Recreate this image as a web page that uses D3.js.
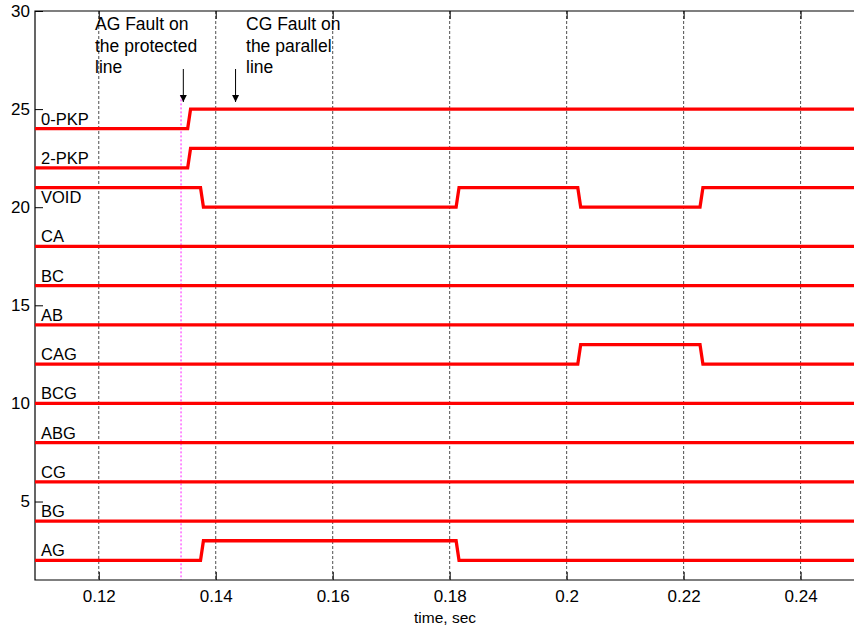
<!DOCTYPE html>
<html>
<head>
<meta charset="utf-8">
<script src="https://cdn.jsdelivr.net/npm/d3@7"></script>
<style>
  body { margin: 0; background: #fff; }
  svg { display: block; font-family: Arial, "Liberation Sans", sans-serif; }
</style>
</head>
<body>
<svg id="chart" width="854" height="629"></svg>
<script>
// time range shown and tick values
const tStart = 0.1091, tEnd = 0.2493;
const xTicks = [0.12, 0.14, 0.16, 0.18, 0.2, 0.22, 0.24];
const yTicks = [5, 10, 15, 20, 25, 30];

// channel names and the (low) level each one sits on
const channels = ["0-PKP", "2-PKP", "VOID", "CA", "BC", "AB", "CAG", "BCG", "ABG", "CG", "BG", "AG"];
const baseLevels = [24, 22, 20, 18, 16, 14, 12, 10, 8, 6, 4, 2];

// digital traces, [time, value]
const pkp0 = [[tStart, 24], [0.1352, 24], [0.1357, 25], [tEnd, 25]];
const pkp2 = [[tStart, 22], [0.1352, 22], [0.1357, 23], [tEnd, 23]];
const voidSig = [[tStart, 21], [0.1374, 21], [0.1379, 20], [0.1811, 20], [0.1816, 21],
                 [0.2019, 21], [0.2024, 20], [0.2228, 20], [0.2233, 21], [tEnd, 21]];
const ca = [[tStart, 18], [tEnd, 18]];
const bc = [[tStart, 16], [tEnd, 16]];
const ab = [[tStart, 14], [tEnd, 14]];
const cag = [[tStart, 12], [0.2019, 12], [0.2024, 13], [0.2228, 13], [0.2233, 12], [tEnd, 12]];
const bcg = [[tStart, 10], [tEnd, 10]];
const abg = [[tStart, 8], [tEnd, 8]];
const cg = [[tStart, 6], [tEnd, 6]];
const bg = [[tStart, 4], [tEnd, 4]];
const ag = [[tStart, 2], [0.1374, 2], [0.1379, 3], [0.1811, 3], [0.1816, 2], [tEnd, 2]];
const traces = [pkp0, pkp2, voidSig, ca, bc, ab, cag, bcg, abg, cg, bg, ag];

// fault markers
const faultInception = 0.13407;
const notes = [
  { t: 0.13446, lines: ["AG Fault on", "the protected", "line"], textT: 0.11936 },
  { t: 0.14339, lines: ["CG Fault on", "the parallel", "line"], textT: 0.14518 }
];

const svg = d3.select("#chart");
const x = d3.scaleLinear().domain([tStart, tEnd]).range([35, 855]);
const y = d3.scaleLinear().domain([1, 30]).range([580, 11]);
const font = "Arial, 'Liberation Sans', sans-serif";

// dashed vertical grid
svg.append("g")
  .selectAll("line")
  .data(xTicks)
  .join("line")
  .attr("x1", d => x(d)).attr("x2", d => x(d))
  .attr("y1", y(30)).attr("y2", y(1))
  .attr("stroke", "#222")
  .attr("stroke-width", 0.8)
  .attr("stroke-dasharray", "3,2");

// fault inception marker
svg.append("line")
  .attr("x1", x(faultInception)).attr("x2", x(faultInception))
  .attr("y1", y(25.7)).attr("y2", y(1))
  .attr("stroke", "#ff00ff")
  .attr("stroke-width", 0.9)
  .attr("stroke-dasharray", "2,2");

// frame
svg.append("path")
  .attr("d", `M${x(tEnd)},${y(30)}H${x(tStart)}V${y(1)}H${x(tEnd)}`)
  .attr("fill", "none")
  .attr("stroke", "#000")
  .attr("stroke-width", 1.2);

// axes (ticks pointing inward)
const xAxis = svg.append("g")
  .attr("transform", `translate(0,${y(1)})`)
  .call(d3.axisBottom(x).tickValues(xTicks).tickSize(-8).tickPadding(10)
    .tickFormat(d => String(+d.toFixed(2))));
xAxis.select(".domain").remove();
xAxis.selectAll("text").attr("font-size", 17).attr("fill", "#000").attr("font-family", font);

const xTop = svg.append("g")
  .attr("transform", `translate(0,${y(30)})`)
  .call(d3.axisTop(x).tickValues(xTicks).tickSize(-8).tickFormat(""));
xTop.select(".domain").remove();

const yAxis = svg.append("g")
  .attr("transform", `translate(${x(tStart)},0)`)
  .call(d3.axisLeft(y).tickValues(yTicks).tickSize(-8).tickPadding(5));
yAxis.select(".domain").remove();
yAxis.selectAll("text").attr("font-size", 17).attr("fill", "#000").attr("font-family", font);

svg.append("text")
  .attr("x", 445).attr("y", 623)
  .attr("text-anchor", "middle")
  .attr("font-size", 15.5)
  .text("time, sec");

// traces
const line = d3.line().x(d => x(d[0])).y(d => y(d[1]));
svg.append("g")
  .selectAll("path")
  .data(traces)
  .join("path")
  .attr("d", line)
  .attr("fill", "none")
  .attr("stroke", "#ff0000")
  .attr("stroke-width", 3.3);

// channel labels
svg.append("g")
  .selectAll("text")
  .data(channels)
  .join("text")
  .attr("x", 41)
  .attr("y", (d, i) => y(baseLevels[i]) - 4)
  .attr("font-size", 16.5)
  .text(d => d);

// annotations with arrows
svg.append("defs").append("marker")
  .attr("id", "head")
  .attr("viewBox", "0 0 10 10")
  .attr("refX", 10).attr("refY", 5)
  .attr("markerWidth", 7).attr("markerHeight", 11)
  .attr("markerUnits", "userSpaceOnUse")
  .attr("orient", "auto")
  .append("path").attr("d", "M0,0L10,5L0,10Z").attr("fill", "#000");

const note = svg.append("g").selectAll("g").data(notes).join("g");
note.append("line")
  .attr("x1", d => x(d.t)).attr("x2", d => x(d.t))
  .attr("y1", 69).attr("y2", 102)
  .attr("stroke", "#000").attr("stroke-width", 1)
  .attr("marker-end", "url(#head)");
note.append("text")
  .attr("font-size", 17.5)
  .selectAll("tspan")
  .data(d => d.lines.map((s, i) => ({ s, i, t: d.textT })))
  .join("tspan")
  .attr("x", d => x(d.t))
  .attr("y", d => 30 + d.i * 21.5)
  .text(d => d.s);
</script>
</body>
</html>
